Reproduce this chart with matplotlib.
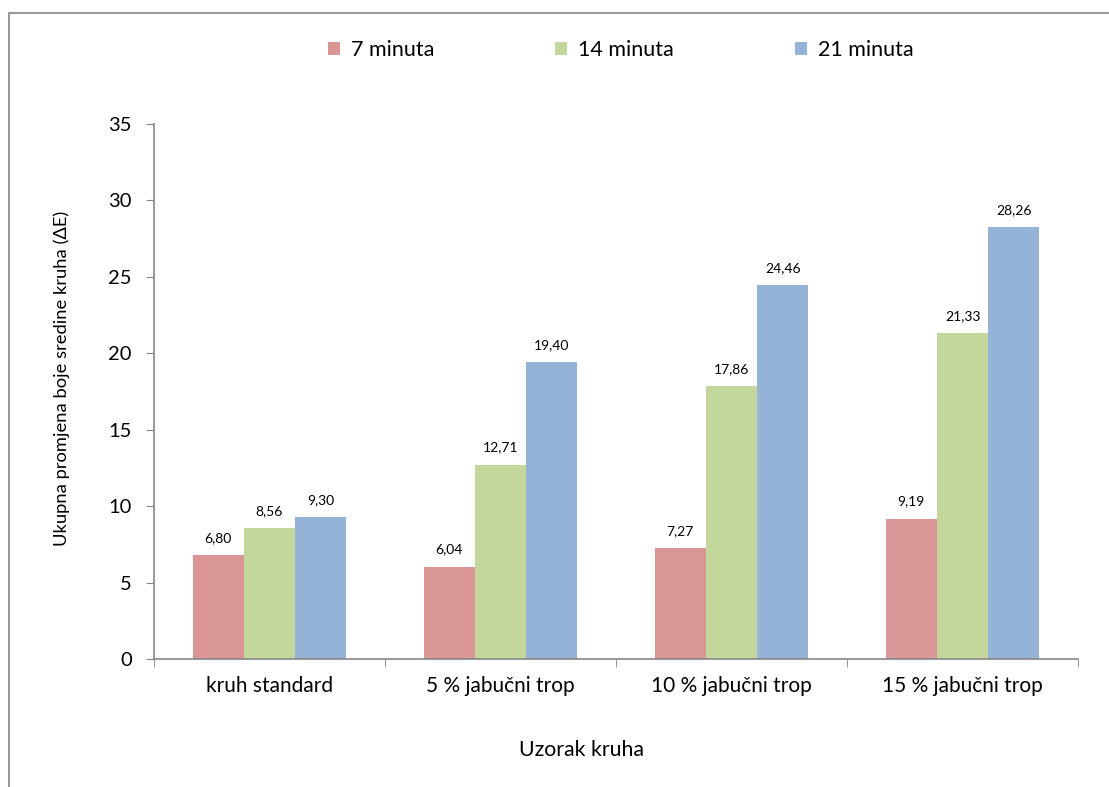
import matplotlib.pyplot as plt
import numpy as np
from matplotlib.patches import Rectangle

categories = ['kruh standard', '5 % jabučni trop', '10 % jabučni trop', '15 % jabučni trop']
series_names = ['7 minuta', '14 minuta', '21 minuta']
min7 = [6.80, 6.04, 7.27, 9.19]
min14 = [8.56, 12.71, 17.86, 21.33]
min21 = [9.30, 19.40, 24.46, 28.26]
colors = ['#D99694', '#C3D69B', '#95B3D7']

plt.rcParams['font.family'] = ['Lato', 'DejaVu Sans']

W, H = 1109, 787
fig = plt.figure(figsize=(W / 100, H / 100), dpi=100)
ax = fig.add_axes([154 / W, 1 - 659 / H, (1078 - 154) / W, (659 - 124) / H])

# outer chart border (runs off the right/bottom edge)
fig.patches.append(Rectangle((8.5 / W, -0.05), 1.2, 1 - 12.5 / H + 0.05,
                             transform=fig.transFigure, fill=False,
                             edgecolor='#868686', linewidth=1.2))

x = np.arange(len(categories))
bw = 0.222
for i, (vals, name, c) in enumerate(zip([min7, min14, min21], series_names, colors)):
    pos = x + (i - 1) * bw
    ax.bar(pos, vals, bw, color=c, label=name, edgecolor='none')
    for p, v in zip(pos, vals):
        ax.annotate(f'{v:.2f}'.replace('.', ','), (p, v), xytext=(0, 8),
                    textcoords='offset points', ha='center', va='bottom', fontsize=10)

ax.set_xlim(-0.5, 3.5)
ax.set_ylim(0, 35)
ax.set_yticks(range(0, 36, 5))
ax.set_xticks(x)
ax.set_xticklabels(categories, fontsize=15)
ax.set_xticks(np.arange(-0.5, 4, 1), minor=True)
ax.tick_params(axis='x', which='major', length=0, pad=12)
ax.tick_params(axis='x', which='minor', length=6, direction='out', color='#868686')
ax.tick_params(axis='y', labelsize=14.5, length=6, direction='out', color='#868686', pad=10)

for s in ['top', 'right']:
    ax.spines[s].set_visible(False)
for s in ['left', 'bottom']:
    ax.spines[s].set_color('#868686')
    ax.spines[s].set_linewidth(1.2)

ax.set_ylabel('Ukupna promjena boje sredine kruha (ΔE)', fontsize=13.2)
ax.yaxis.set_label_coords(-0.091, 0.525)
ax.set_xlabel('Uzorak kruha', fontsize=15.3)
ax.xaxis.set_label_coords(0.463, -0.151)

ax.legend(loc='center', bbox_to_anchor=(0.505, 1.138), ncol=3, frameon=False,
          fontsize=15.5, handlelength=0.58, handleheight=0.58, handletextpad=0.5,
          columnspacing=5.6)

fig.savefig('out.png', dpi=100)
